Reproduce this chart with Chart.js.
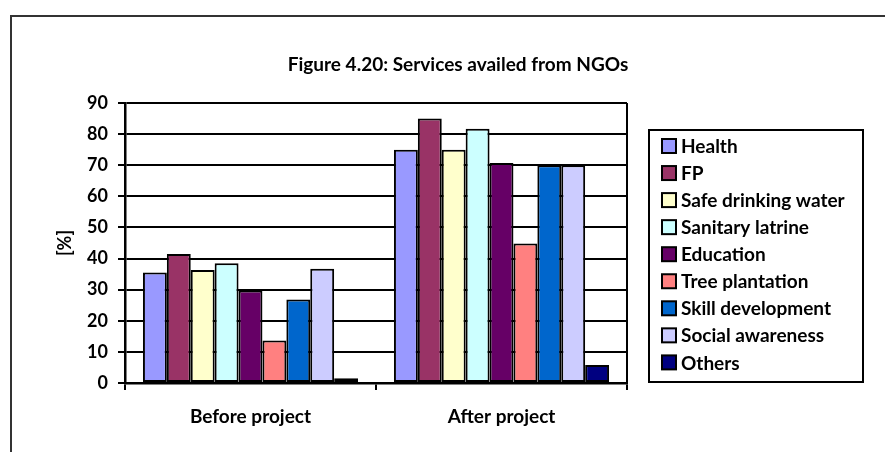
<!DOCTYPE html>
<html>
<head>
<meta charset="utf-8">
<script src="https://cdn.jsdelivr.net/npm/chart.js@4.4.0/dist/chart.umd.min.js"></script>
<style>
  html, body { margin: 0; padding: 0; background: #fff; }
  #wrap { width: 885px; height: 452px; }
</style>
</head>
<body>
<div id="wrap"><canvas id="myChart" width="885" height="452"></canvas></div>
<script>
// survey data
var periods = ['Before project', 'After project'];
var services = ['Health', 'FP', 'Safe drinking water', 'Sanitary latrine', 'Education',
                'Tree plantation', 'Skill development', 'Social awareness', 'Others'];
var health    = [35.5, 75];
var fp        = [41.5, 85];
var water     = [36.3, 75];
var latrine   = [38.5, 81.7];
var education = [29.7, 70.7];
var tree      = [13.7, 44.8];
var skill     = [26.8, 70];
var awareness = [36.7, 70];
var others    = [1.5, 5.8];
var yTicks = [0, 10, 20, 30, 40, 50, 60, 70, 80, 90];

var seriesValues = [health, fp, water, latrine, education, tree, skill, awareness, others];
var fills = ['#9999FF', '#993366', '#FFFFCC', '#CCFFFF', '#660066',
             '#FF8080', '#0066CC', '#CCCCFF', '#000080'];

var FONT = 'Lato, "Liberation Sans", sans-serif';

// frame, plot border, title and legend box
var decorations = {
    id: 'decorations',
    afterDraw: function (chart) {
        var ctx = chart.ctx;
        var area = chart.chartArea;
        ctx.save();

        // outer frame (top + left)
        ctx.strokeStyle = '#333';
        ctx.lineWidth = 2;
        ctx.beginPath();
        ctx.moveTo(11, 452);
        ctx.lineTo(11, 16);
        ctx.lineTo(885, 16);
        ctx.stroke();

        // right edge of the plot
        ctx.strokeStyle = '#000';
        ctx.beginPath();
        ctx.moveTo(area.right, area.top);
        ctx.lineTo(area.right, area.bottom);
        ctx.stroke();

        // title
        ctx.fillStyle = '#000';
        ctx.font = 'bold 19px ' + FONT;
        ctx.textAlign = 'center';
        ctx.textBaseline = 'middle';
        ctx.fillText('Figure 4.20: Services availed from NGOs', 458, 65);

        // legend
        var lx = 649, ly = 130, lw = 214, lh = 252;
        ctx.lineWidth = 2;
        ctx.strokeRect(lx, ly, lw, lh);
        ctx.font = 'bold 19px ' + FONT;
        ctx.textAlign = 'left';
        chart.data.datasets.forEach(function (ds, i) {
            var cy = 146 + i * 27.05;
            ctx.fillStyle = ds.backgroundColor;
            ctx.fillRect(662, cy - 7, 14, 14);
            ctx.lineWidth = 2;
            ctx.strokeStyle = '#000';
            ctx.strokeRect(662, cy - 7, 14, 14);
            ctx.fillStyle = '#000';
            ctx.fillText(ds.label, 681, cy + 1);
        });
        ctx.restore();
    }
};

var ctx = document.getElementById('myChart').getContext('2d');
var myChart = new Chart(ctx, {
    type: 'bar',
    data: {
        labels: periods,
        datasets: services.map(function (name, i) {
            return {
                label: name,
                data: seriesValues[i],
                backgroundColor: fills[i],
                borderColor: '#000',
                borderWidth: 2,
                borderSkipped: false,
                categoryPercentage: 0.857,
                barPercentage: 1
            };
        })
    },
    options: {
        responsive: false,
        maintainAspectRatio: false,
        animation: false,
        layout: { padding: { left: 45, top: 103, right: 258, bottom: 0 } },
        plugins: {
            legend: { display: false },
            title: { display: false },
            tooltip: { enabled: false }
        },
        scales: {
            x: {
                afterFit: function (scale) { scale.height = 69; },
                grid: {
                    offset: true,
                    drawOnChartArea: false,
                    drawTicks: true,
                    tickLength: 7,
                    color: '#000',
                    lineWidth: 2
                },
                border: { display: true, color: '#000', width: 2.5 },
                ticks: {
                    color: '#000',
                    padding: 15,
                    font: { family: FONT, size: 19, weight: 'bold' }
                }
            },
            y: {
                min: 0,
                max: 90,
                afterFit: function (scale) { scale.width = 80; },
                afterBuildTicks: function (scale) {
                    scale.ticks = yTicks.map(function (v) { return { value: v }; });
                },
                grid: {
                    color: '#000',
                    lineWidth: 2,
                    drawTicks: true,
                    tickLength: 7
                },
                border: { display: true, color: '#000', width: 2.5 },
                ticks: {
                    color: '#000',
                    padding: 10,
                    font: { family: FONT, size: 18, weight: 'bold' }
                },
                title: {
                    display: true,
                    text: '[%]',
                    color: '#000',
                    padding: { top: 9, bottom: 0 },
                    font: { family: FONT, size: 18, weight: 'bold' }
                }
            }
        }
    },
    plugins: [decorations]
});
</script>
</body>
</html>
